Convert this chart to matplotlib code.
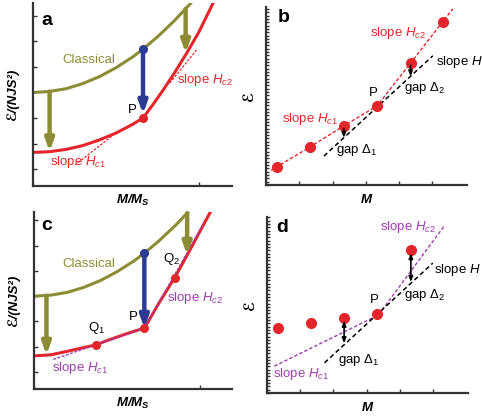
import matplotlib
matplotlib.use('Agg')
import matplotlib.pyplot as plt

plt.rcParams['font.family'] = ['Liberation Sans', 'DejaVu Sans']
plt.rcParams['mathtext.fontset'] = 'custom'
plt.rcParams['mathtext.rm'] = 'Liberation Sans'
plt.rcParams['mathtext.it'] = 'Liberation Sans:italic'
plt.rcParams['mathtext.bf'] = 'Liberation Sans:italic:bold'

# colours
RED = '#e4262c'
OLIVE = '#8c8c34'
BLUE = '#2c3a94'
PURPLE = '#a03cb0'

# ---- panel a / c : energy curves ----
cl_x = [0, 0.1, 0.2, 0.3, 0.4, 0.5, 0.6, 0.663, 0.75, 0.85, 0.95]
cl_y = [3.0, 3.04, 3.15, 3.35, 3.62, 3.97, 4.39, 4.70, 5.18, 5.80, 6.49]

a_red_x = [0, 0.1, 0.2, 0.3, 0.4, 0.5, 0.6, 0.663, 0.72, 0.785, 0.85, 0.926, 1.0, 1.07, 1.1]
a_red_y = [0.65, 0.68, 0.77, 0.92, 1.14, 1.41, 1.75, 2.0, 2.50, 3.10, 3.74, 4.54, 5.37, 6.30, 6.70]
a_hc1_x = [0.253, 0.484]
a_hc1_y = [0.16, 1.33]
a_hc2_x = [0.825, 0.986]
a_hc2_y = [3.37, 4.67]
a_P = (0.663, 2.0)
a_blue_top = 4.70
a_drop_x = [0.10, 0.92]
a_drop_top = [3.04, 6.28]
a_drop_bot = [0.68, 4.54]

c_red_x = [0, 0.1, 0.2, 0.3, 0.37, 0.45, 0.55, 0.62, 0.663, 0.75, 0.845, 0.92, 1.0, 1.06, 1.1]
c_red_y = [0.64, 0.68, 0.82, 0.97, 1.07, 1.27, 1.50, 1.65, 1.73, 2.72, 3.73, 4.62, 5.60, 6.33, 6.80]
c_hc1_x = [0.116, 0.663]
c_hc1_y = [0.50, 1.73]
c_hc2_x = [0.663, 1.02]
c_hc2_y = [1.73, 5.88]
c_dots_x = [0.37, 0.663, 0.845]
c_dots_y = [1.07, 1.73, 3.73]
c_blue_top = 4.71
c_drop_x = [0.075, 0.92]
c_drop_top = [3.02, 6.28]
c_drop_bot = [0.67, 4.62]

# ---- panel b / d : discrete points ----
b_x = [0.33, 1.33, 2.34, 3.34, 4.35, 5.32]
b_y = [0.55, 1.15, 1.78, 2.38, 3.67, 4.92]
b_line_x = [0.15] + b_x + [5.62]
b_line_y = [0.44] + b_y + [5.30]
b_h_x = [1.74, 5.02]
b_h_y = [0.87, 3.89]
b_gap_x = [2.34, 4.35]
b_gap_top = [1.70, 3.60]
b_gap_bot = [1.42, 3.27]

d_x = [0.32, 1.32, 2.32, 3.32, 4.33]
d_y = [1.95, 2.10, 2.25, 2.38, 4.31]
d_hc_x = [0.22, 3.35, 5.35]
d_hc_y = [0.81, 2.35, 5.06]
d_h_x = [1.73, 4.99]
d_h_y = [0.91, 3.92]
d_gap_x = [2.32, 4.33]
d_gap_top = [2.18, 4.22]
d_gap_bot = [1.50, 3.35]

ylab_a = 'ℰ/(NJS²)'
xlab_a = r'$\mathbf{M/M_S}$'

fig = plt.figure(figsize=(4.82, 4.20), dpi=100)
ax_a = fig.add_axes([0.0685, 0.557, 0.413, 0.436])
ax_b = fig.add_axes([0.552, 0.5595, 0.417, 0.424])
ax_c = fig.add_axes([0.0705, 0.0738, 0.411, 0.421])
ax_d = fig.add_axes([0.554, 0.0643, 0.417, 0.419])


def style(ax):
    for s in ['top', 'right']:
        ax.spines[s].set_visible(False)
    for s in ['left', 'bottom']:
        ax.spines[s].set_linewidth(1.6)
        ax.spines[s].set_color('#333333')
    ax.tick_params(direction='in', length=3, width=1, colors='#333333',
                   labelleft=False, labelbottom=False)


def drop(ax, x, y0, y1, color, lw=3.2):
    ax.annotate('', xy=(x, y1), xytext=(x, y0),
                arrowprops=dict(arrowstyle='-|>,head_width=0.25,head_length=0.7',
                                lw=lw, color=color, shrinkA=0, shrinkB=0))


def gap(ax, x, y0, y1, both=False):
    st = '<|-|>' if both else '-|>'
    ax.annotate('', xy=(x, y1), xytext=(x, y0),
                arrowprops=dict(arrowstyle=st + ',head_width=0.12,head_length=0.3',
                                lw=1.2, color='black', shrinkA=0, shrinkB=0))


# panel a
ax = ax_a
style(ax)
ax.plot(cl_x, cl_y, color=OLIVE, lw=2.2)
ax.plot(a_red_x, a_red_y, color=RED, lw=2.2)
ax.plot(a_hc1_x, a_hc1_y, color=RED, lw=0.9, ls=(0, (2, 1.2)))
ax.plot(a_hc2_x, a_hc2_y, color=RED, lw=0.9, ls=(0, (2, 1.2)))
for x, y0, y1 in zip(a_drop_x, a_drop_top, a_drop_bot):
    drop(ax, x, y0, y1, OLIVE)
drop(ax, a_P[0], a_blue_top, a_P[1] + 0.15, BLUE)
ax.plot([a_P[0]], [a_blue_top], 'o', color=BLUE, ms=5.5)
ax.plot([a_P[0]], [a_P[1]], 'o', color=RED, ms=5.5)
ax.text(0.084, 5.84, 'a', fontsize=14, fontweight='bold', ha='center', va='center')
ax.text(0.337, 4.27, 'Classical', fontsize=9.5, color=OLIVE, ha='center', va='center')
ax.text(0.60, 2.31, 'P', fontsize=9.5, ha='center', va='center')
ax.text(1.04, 3.49, r'slope $H_{c2}$', fontsize=9.5, color=RED, ha='center', va='center')
ax.text(0.27, 0.27, r'slope $H_{c1}$', fontsize=9.5, color=RED, ha='center', va='center')
ax.set_xlim(0, 1.2)
ax.set_ylim(-0.667, 6.51)
ax.set_xticks([0, 1])
ax.set_yticks(range(7))
ax.set_xlabel(xlab_a, fontsize=9.5, labelpad=5)
ax.set_ylabel(ylab_a, fontsize=9.5, fontweight='bold', style='italic', labelpad=10)

# panel c
ax = ax_c
style(ax)
ax.plot(cl_x, cl_y, color=OLIVE, lw=2.2)
ax.plot(c_red_x, c_red_y, color=RED, lw=2.2)
ax.plot(c_hc1_x, c_hc1_y, color=PURPLE, lw=1.0, ls=(0, (2, 1.2)))
ax.plot(c_hc2_x, c_hc2_y, color=PURPLE, lw=1.0, ls=(0, (2, 1.2)))
for x, y0, y1 in zip(c_drop_x, c_drop_top, c_drop_bot):
    drop(ax, x, y0, y1, OLIVE)
drop(ax, c_dots_x[1], c_blue_top, c_dots_y[1], BLUE)
ax.plot([c_dots_x[1]], [c_blue_top], 'o', color=BLUE, ms=5.5)
ax.plot(c_dots_x, c_dots_y, 'o', color=RED, ms=5.5, ls='none')
ax.text(0.075, 5.81, 'c', fontsize=14, fontweight='bold', ha='center', va='center')
ax.text(0.331, 4.27, 'Classical', fontsize=9.5, color=OLIVE, ha='center', va='center')
ax.text(0.376, 1.74, r'Q$_1$', fontsize=9.5, ha='center', va='center')
ax.text(0.596, 2.17, 'P', fontsize=9.5, ha='center', va='center')
ax.text(0.828, 4.47, r'Q$_2$', fontsize=9.5, ha='center', va='center')
ax.text(0.97, 2.92, r'slope $H_{c2}$', fontsize=9.5, color=PURPLE, ha='center', va='center')
ax.text(0.28, 0.16, r'slope $H_{c1}$', fontsize=9.5, color=PURPLE, ha='center', va='center')
ax.set_xlim(0, 1.19)
ax.set_ylim(-0.67, 6.32)
ax.set_xticks([0, 1])
ax.set_yticks(range(7))
ax.set_xlabel(xlab_a, fontsize=9.5, labelpad=5)
ax.set_ylabel(ylab_a, fontsize=9.5, fontweight='bold', style='italic', labelpad=10)

# panel b
ax = ax_b
style(ax)
ax.plot(b_line_x, b_line_y, color=RED, lw=1.0, ls=(0, (2.5, 1.5)))
ax.plot(b_h_x, b_h_y, color='black', lw=1.1, ls=(0, (3, 2)))
ax.plot(b_x, b_y, 'o', color=RED, ms=7, ls='none')
for x, y0, y1 in zip(b_gap_x, b_gap_top, b_gap_bot):
    gap(ax, x, y0, y1)
ax.text(0.53, 5.03, 'b', fontsize=14, fontweight='bold', ha='center', va='center')
ax.text(3.99, 4.58, r'slope $H_{c2}$', fontsize=9.5, color=RED, ha='center', va='center')
ax.text(5.12, 3.70, r'slope $H$', fontsize=9.5, ha='left', va='center')
ax.text(4.16, 2.92, r'gap $\mathit{\Delta}_2$', fontsize=9.5, ha='left', va='center')
ax.text(3.22, 2.77, 'P', fontsize=9.5, ha='center', va='center')
ax.text(1.34, 1.99, r'slope $H_{c1}$', fontsize=9.5, color=RED, ha='center', va='center')
ax.text(2.11, 1.05, r'gap $\mathit{\Delta}_1$', fontsize=9.5, ha='left', va='center')
ax.set_xlim(0, 6.05)
ax.set_ylim(0, 5.36)
ax.set_xticks(range(6))
ax.set_yticks([i / 10 for i in range(54)])
ax.tick_params(axis='y', length=2.5, width=1)
ax.set_xlabel(r'$\mathbf{M}$', fontsize=9.5, labelpad=6)
ax.set_ylabel('ℰ', fontsize=10, fontweight='bold', style='italic', labelpad=7)

# panel d
ax = ax_d
style(ax)
ax.plot(d_hc_x, d_hc_y, color=PURPLE, lw=1.0, ls=(0, (2.5, 1.5)))
ax.plot(d_h_x, d_h_y, color='black', lw=1.1, ls=(0, (3, 2)))
ax.plot(d_x, d_y, 'o', color=RED, ms=7, ls='none')
for x, y0, y1 in zip(d_gap_x, d_gap_top, d_gap_bot):
    gap(ax, x, y0, y1, both=True)
ax.text(0.47, 5.0, 'd', fontsize=14, fontweight='bold', ha='center', va='center')
ax.text(4.26, 5.0, r'slope $H_{c2}$', fontsize=9.5, color=PURPLE, ha='center', va='center')
ax.text(5.03, 3.70, r'slope $H$', fontsize=9.5, ha='left', va='center')
ax.text(4.13, 2.95, r'gap $\mathit{\Delta}_2$', fontsize=9.5, ha='left', va='center')
ax.text(3.22, 2.80, 'P', fontsize=9.5, ha='center', va='center')
ax.text(2.14, 0.99, r'gap $\mathit{\Delta}_1$', fontsize=9.5, ha='left', va='center')
ax.text(1.04, 0.57, r'slope $H_{c1}$', fontsize=9.5, color=PURPLE, ha='center', va='center')
ax.set_xlim(0, 6.05)
ax.set_ylim(0, 5.31)
ax.set_xticks(range(6))
ax.set_yticks([i / 10 for i in range(54)])
ax.tick_params(axis='y', length=2.5, width=1)
ax.set_xlabel(r'$\mathbf{M}$', fontsize=9.5, labelpad=6)
ax.set_ylabel('ℰ', fontsize=10, fontweight='bold', style='italic', labelpad=7)

fig.savefig('out.png', dpi=100)
